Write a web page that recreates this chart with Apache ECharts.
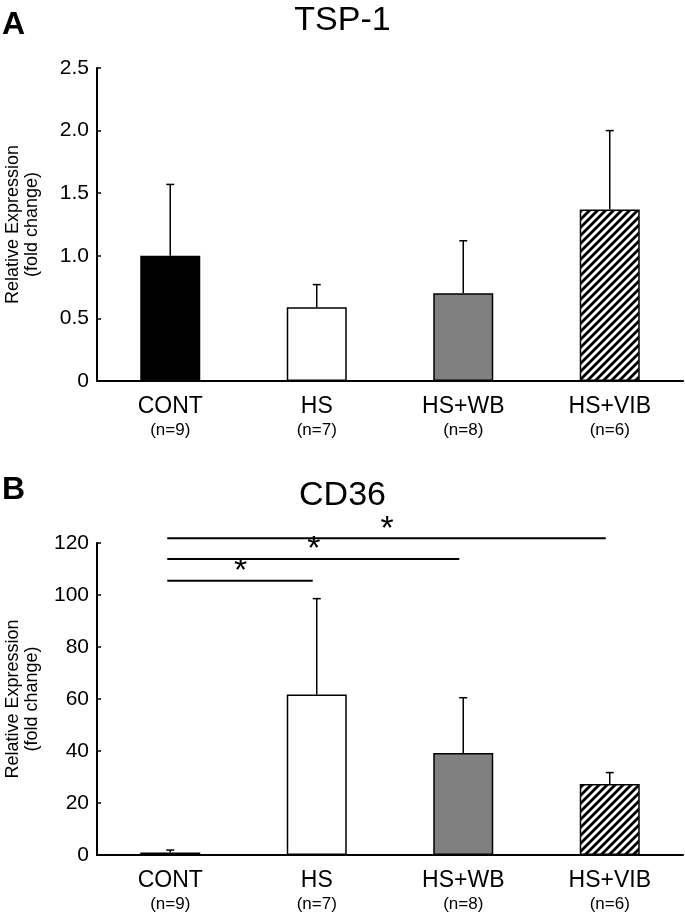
<!DOCTYPE html>
<html>
<head>
<meta charset="utf-8">
<script src="https://cdn.jsdelivr.net/npm/echarts@6/dist/echarts.min.js"></script>
<style>
 html, body { margin: 0; padding: 0; background: #fff; }
 #main { width: 685px; height: 915px; }
</style>
</head>
<body>
<div id="main"></div>
<script>
/** 数据 **/
var categories = ['CONT', 'HS', 'HS+WB', 'HS+VIB'];
var nLabels = ['(n=9)', '(n=7)', '(n=8)', '(n=6)'];
var tspMean = [1.0, 0.59, 0.70, 1.37];
var tspSD = [0.57, 0.18, 0.42, 0.63];
var cd36Mean = [1.0, 61.7, 39.2, 27.3];
var cd36SD = [0.9, 36.9, 21.3, 4.4];
// significance bars: from / to category index, height
var sigFrom = [0, 0, 0];
var sigTo = [1, 2, 3];
var sigY = [105.5, 113.8, 121.8];

var FONT = '"Liberation Sans", Arial, Helvetica, sans-serif';

/** 斜线填充 **/
function hatch() {
 var c = document.createElement('canvas');
 c.width = 8; c.height = 8;
 var g = c.getContext('2d');
 g.fillStyle = '#fff';
 g.fillRect(0, 0, 8, 8);
 g.strokeStyle = '#000';
 g.lineWidth = 2.8;
 g.beginPath();
 g.moveTo(-2, 10); g.lineTo(10, -2);
 g.moveTo(-2, 2); g.lineTo(2, -2);
 g.moveTo(6, 10); g.lineTo(10, 6);
 g.stroke();
 return c;
}
var fills = ['#000', '#fff', '#808080', { image: hatch(), repeat: 'repeat' }];

function barData(values) {
 return values.map(function(v, i) {
  return {
   value: v,
   itemStyle: { color: fills[i], borderColor: '#000', borderWidth: 1.5 }
  };
 });
}

function errData(mean, sd) {
 return mean.map(function(m, i) { return [i, m, sd[i]]; });
}

function renderErr(params, api) {
 var x = api.value(0), m = api.value(1), s = api.value(2);
 var p0 = api.coord([x, m]);
 var p1 = api.coord([x, m + s]);
 var st = { stroke: '#000', lineWidth: 1.5 };
 return {
  type: 'group',
  children: [
   { type: 'line', shape: { x1: p0[0], y1: p0[1], x2: p1[0], y2: p1[1] }, style: st },
   { type: 'line', shape: { x1: p1[0] - 4, y1: p1[1], x2: p1[0] + 4, y2: p1[1] }, style: st }
  ]
 };
}

function renderSig(params, api) {
 var a = api.coord([api.value(0), api.value(2)]);
 var b = api.coord([api.value(1), api.value(2)]);
 return {
  type: 'group',
  children: [
   { type: 'line', shape: { x1: a[0] - 3, y1: a[1], x2: b[0] - 4, y2: b[1] }, style: { stroke: '#000', lineWidth: 2 } },
   { type: 'text', style: { text: '*', x: (a[0] + b[0]) / 2 - 3, y: a[1] + 8, align: 'center', verticalAlign: 'bottom', font: '34px ' + FONT, fill: '#000' } }
  ]
 };
}

function xAxisOf(grid) {
 return {
  type: 'category',
  gridIndex: grid,
  data: categories,
  axisLine: { lineStyle: { color: '#000', width: 2 } },
  axisTick: { inside: true, length: 4, lineStyle: { color: '#000', width: 1.5 } },
  axisLabel: {
   color: '#000',
   margin: 13,
   formatter: function(v, i) { return '{a|' + v + '}\n{b|' + nLabels[i] + '}'; },
   rich: {
    a: { fontSize: 23, lineHeight: 26, fontFamily: FONT, color: '#000' },
    b: { fontSize: 17, lineHeight: 20, fontFamily: FONT, color: '#000' }
   }
  },
  splitLine: { show: false }
 };
}

function yAxisOf(grid, max, interval, fmt) {
 return {
  type: 'value',
  gridIndex: grid,
  min: 0,
  max: max,
  interval: interval,
  name: 'Relative Expression\n(fold change)',
  nameLocation: 'middle',
  nameGap: 55,
  nameTextStyle: { fontSize: 18, lineHeight: 19, fontFamily: FONT, color: '#000' },
  axisLine: { show: true, lineStyle: { color: '#000', width: 2 } },
  axisTick: { show: true, inside: true, length: 4, lineStyle: { color: '#000', width: 1.5 } },
  axisLabel: { color: '#000', fontSize: 21, fontFamily: FONT, margin: 8, formatter: fmt },
  splitLine: { show: false }
 };
}

var chart = echarts.init(document.getElementById('main'));

var option = {
 backgroundColor: '#fff',
 animation: false,
 title: [
  { text: 'A', left: 2, top: 9, padding: 0, textStyle: { fontSize: 32, fontWeight: 'bold', fontFamily: FONT, color: '#000' } },
  { text: 'TSP-1', left: 'center', top: 4, padding: 0, textStyle: { fontSize: 34, fontWeight: 'normal', fontFamily: FONT, color: '#000' } },
  { text: 'B', left: 2, top: 474, padding: 0, textStyle: { fontSize: 32, fontWeight: 'bold', fontFamily: FONT, color: '#000' } },
  { text: 'CD36', left: 'center', top: 479, padding: 0, textStyle: { fontSize: 34, fontWeight: 'normal', fontFamily: FONT, color: '#000' } }
 ],
 grid: [
  { left: 97, top: 68, width: 586, height: 313, containLabel: false, outerBoundsMode: 'none' },
  { left: 97, top: 543, width: 586, height: 312, containLabel: false, outerBoundsMode: 'none' }
 ],
 xAxis: [xAxisOf(0), xAxisOf(1)],
 yAxis: [
  yAxisOf(0, 2.5, 0.5, function(v) { return v === 0 ? '0' : v.toFixed(1); }),
  yAxisOf(1, 120, 20, function(v) { return String(v); })
 ],
 series: [
  { type: 'bar', xAxisIndex: 0, yAxisIndex: 0, barWidth: 60, data: barData(tspMean), z: 2 },
  { type: 'custom', xAxisIndex: 0, yAxisIndex: 0, renderItem: renderErr, data: errData(tspMean, tspSD), z: 3 },
  { type: 'bar', xAxisIndex: 1, yAxisIndex: 1, barWidth: 60, data: barData(cd36Mean), z: 2 },
  { type: 'custom', xAxisIndex: 1, yAxisIndex: 1, renderItem: renderErr, data: errData(cd36Mean, cd36SD), z: 3 },
  {
   type: 'custom', xAxisIndex: 1, yAxisIndex: 1, renderItem: renderSig, clip: false, z: 3,
   data: sigY.map(function(y, i) { return [sigFrom[i], sigTo[i], y]; })
  }
 ]
};
chart.setOption(option);
</script>
</body>
</html>
